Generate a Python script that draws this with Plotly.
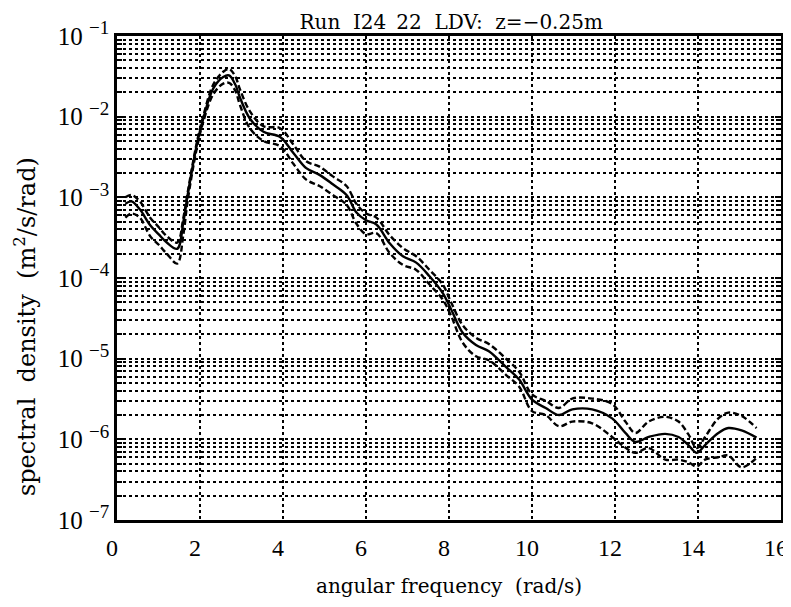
import plotly.graph_objects as go

freq = [0.20, 0.35, 0.55, 0.80, 1.00, 1.20, 1.45, 1.60, 1.70, 1.92, 2.08, 2.32, 2.56, 2.70,
        2.85, 2.96, 3.20, 3.53, 3.93, 4.25, 4.56, 4.88, 5.20, 5.53, 5.77, 6.00, 6.25, 6.57,
        6.89, 7.21, 7.53, 7.85, 8.05, 8.33, 8.65, 8.97, 9.37, 9.69, 10.00, 10.33, 10.65,
        10.97, 11.45, 11.93, 12.25, 12.49, 12.81, 13.21, 13.53, 13.77, 13.97, 14.17, 14.49,
        14.73, 15.05, 15.41]

spectrum = [8.3e-4, 8.9e-4, 7.1e-4, 4.5e-4, 3.5e-4, 2.75e-4, 2.3e-4, 5.0e-4, 1.05e-3, 4.4e-3,
            9.5e-3, 2.24e-2, 3.1e-2, 3.24e-2, 2.5e-2, 1.74e-2, 9.5e-3, 6.5e-3, 5.6e-3, 3.55e-3,
            2.3e-3, 1.9e-3, 1.45e-3, 1.07e-3, 6.5e-4, 5.2e-4, 4.6e-4, 2.7e-4, 1.86e-4, 1.55e-4,
            1.05e-4, 6.5e-5, 4.1e-5, 2.1e-5, 1.48e-5, 1.23e-5, 7.9e-6, 5.5e-6, 3.1e-6, 2.45e-6,
            2.0e-6, 2.35e-6, 2.35e-6, 1.82e-6, 1.2e-6, 9.3e-7, 1.07e-6, 1.17e-6, 1.07e-6, 8.5e-7,
            6.8e-7, 8.5e-7, 1.2e-6, 1.38e-6, 1.29e-6, 1.05e-6]

upper = [1.0e-3, 1.07e-3, 8.9e-4, 5.6e-4, 4.3e-4, 3.3e-4, 2.75e-4, 5.6e-4, 1.12e-3, 4.7e-3,
         1.02e-2, 2.5e-2, 3.6e-2, 3.9e-2, 3.16e-2, 2.2e-2, 1.17e-2, 7.6e-3, 7.2e-3, 4.5e-3,
         2.8e-3, 2.4e-3, 1.82e-3, 1.38e-3, 8.3e-4, 6.3e-4, 5.6e-4, 3.4e-4, 2.35e-4, 1.86e-4,
         1.26e-4, 8.3e-5, 5.0e-5, 2.6e-5, 1.82e-5, 1.51e-5, 1.0e-5, 6.9e-6, 3.6e-6, 3.0e-6,
         2.45e-6, 3.2e-6, 3.2e-6, 2.75e-6, 1.66e-6, 1.2e-6, 1.66e-6, 1.9e-6, 1.66e-6, 1.15e-6,
         7.8e-7, 1.07e-6, 1.82e-6, 2.14e-6, 1.95e-6, 1.38e-6]

lower = [5.6e-4, 6.3e-4, 5.6e-4, 3.3e-4, 2.6e-4, 2.0e-4, 1.51e-4, 3.5e-4, 8.9e-4, 4.0e-3,
         8.7e-3, 1.9e-2, 2.57e-2, 2.63e-2, 2.1e-2, 1.41e-2, 7.2e-3, 5.0e-3, 4.3e-3, 2.6e-3,
         1.66e-3, 1.38e-3, 1.07e-3, 8.1e-4, 4.7e-4, 3.5e-4, 3.6e-4, 2.04e-4, 1.45e-4, 1.26e-4,
         8.3e-5, 5.4e-5, 3.4e-5, 1.58e-5, 1.07e-5, 9.5e-6, 6.3e-6, 4.5e-6, 2.24e-6, 2.0e-6,
         1.45e-6, 1.66e-6, 1.58e-6, 1.07e-6, 7.9e-7, 6.8e-7, 7.8e-7, 5.6e-7, 5.6e-7, 5.2e-7,
         4.6e-7, 5.6e-7, 6.0e-7, 6.3e-7, 4.5e-7, 5.9e-7]

x_ticks = [0, 2, 4, 6, 8, 10, 12, 14, 16]
y_ticks = [1e-7, 1e-6, 1e-5, 1e-4, 1e-3, 1e-2, 1e-1]
y_exponents = [7, 6, 5, 4, 3, 2, 1]
y_ticktext = ["10 <sup><span style='font-size:19px'>\u2212%d</span></sup>" % k for k in y_exponents]

tick_family = "Liberation Serif, Times New Roman, serif"
title_family = "DejaVu Serif, serif"

fig = go.Figure()
fig.add_trace(go.Scatter(x=freq, y=upper, mode="lines", line=dict(color="black", width=2.4, dash="6px,3px", shape="spline"), showlegend=False))
fig.add_trace(go.Scatter(x=freq, y=lower, mode="lines", line=dict(color="black", width=2.4, dash="6px,3px", shape="spline"), showlegend=False))
fig.add_trace(go.Scatter(x=freq, y=spectrum, mode="lines", line=dict(color="black", width=2.4, shape="spline"), showlegend=False))

# the page body keeps the browser's 8px default margin, so the figure is sized to fit inside it
fig.update_layout(
    width=783, height=599,
    margin=dict(l=109, r=10, t=28, b=87),
    paper_bgcolor="white", plot_bgcolor="white",
    font=dict(family=tick_family, color="black", size=21),
    title=dict(text="Run  I24_22  LDV:  z=\u22120.25m", x=0.566, xanchor="center", y=0.976, yanchor="middle",
               font=dict(size=20, family=title_family, color="black")),
    annotations=[dict(text="spectral  density  (m<sup>2</sup>/s/rad)", textangle=-90,
                      xref="paper", yref="paper", x=-0.1375, y=0.40, xanchor="center", yanchor="middle",
                      showarrow=False, font=dict(size=24, family=title_family, color="black"))],
)
fig.update_xaxes(
    range=[0, 16], tickvals=x_ticks, ticktext=[str(v) for v in x_ticks],
    showline=True, linecolor="black", linewidth=2.7, mirror=True, automargin=False,
    ticks="", showgrid=True, gridcolor="black", gridwidth=2.4, griddash="dot",
    tickfont=dict(size=24, family=tick_family), zeroline=False, ticklabelstandoff=4,
    ticklabelshift=-5, ticklabeloverflow="allow",
    title=dict(text="angular frequency  (rad/s)", font=dict(size=20, family=title_family), standoff=20),
)
fig.update_yaxes(
    type="log", range=[-7, -1], tickvals=y_ticks, ticktext=y_ticktext,
    showline=True, linecolor="black", linewidth=2.7, mirror="allticks", automargin=False,
    ticks="inside", ticklen=6, tickwidth=2, tickcolor="black",
    showgrid=True, gridcolor="black", gridwidth=2.4, griddash="dot",
    tickfont=dict(size=25, family=tick_family), ticklabeloverflow="allow",
    minor=dict(dtick="D1", showgrid=True, gridcolor="black", gridwidth=2.4, griddash="dot",
               ticks="inside", ticklen=5, tickwidth=2, tickcolor="black"),
)

fig.write_html("out.html")
